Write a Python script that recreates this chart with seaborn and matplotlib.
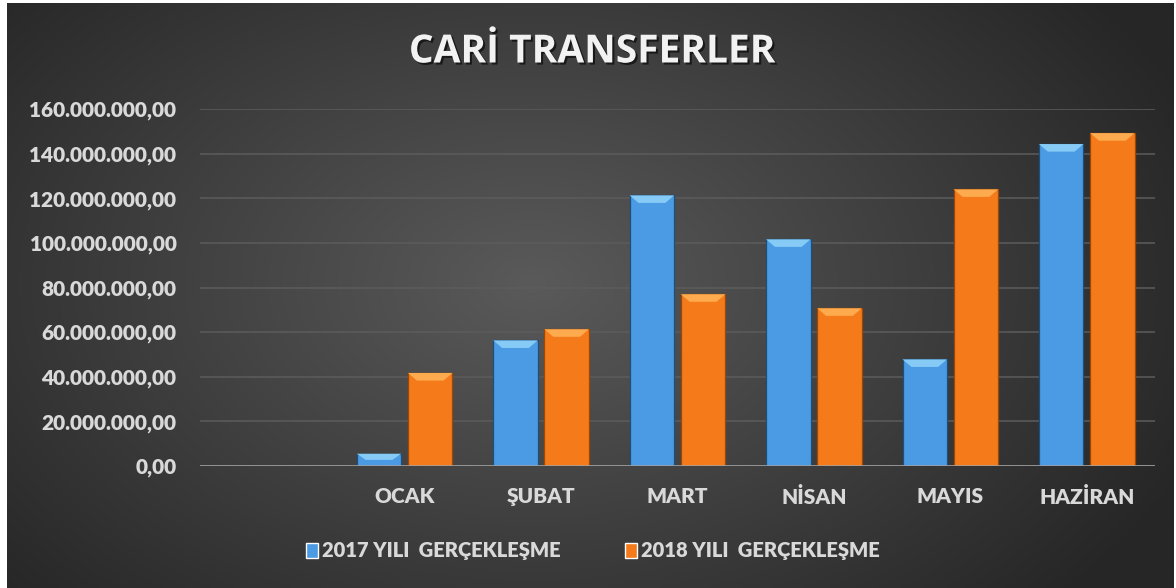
import matplotlib
matplotlib.use("Agg")
import matplotlib.pyplot as plt
import matplotlib.patheffects as pe
from matplotlib.patches import Polygon
from matplotlib.ticker import FuncFormatter
import numpy as np
import pandas as pd
import seaborn as sns

# veriler
aylar = ["OCAK", "ŞUBAT", "MART", "NİSAN", "MAYIS", "HAZİRAN"]
seri_2017 = [5.5e6, 56.3e6, 121.3e6, 101.6e6, 47.8e6, 144.3e6]
seri_2018 = [41.7e6, 61.3e6, 77.0e6, 70.7e6, 124.0e6, 149.2e6]
seri_adlari = ["2017 YILI  GERÇEKLEŞME", "2018 YILI  GERÇEKLEŞME"]
baslik = "CARİ TRANSFERLER"
bos_kategori = " "

renkler = {seri_adlari[0]: "#4a9be3", seri_adlari[1]: "#f57b1a"}
kenar = {seri_adlari[0]: "#1d4f7a", seri_adlari[1]: "#9a4708"}
parlak = {seri_adlari[0]: "#86caf6", seri_adlari[1]: "#fdab4e"}

df = pd.DataFrame({
    "ay": aylar * 2,
    "deger": seri_2017 + seri_2018,
    "seri": [seri_adlari[0]] * len(aylar) + [seri_adlari[1]] * len(aylar),
})

sns.set_style("dark")
plt.rcParams["font.family"] = ["Lato", "DejaVu Sans"]
metin_renk = "#d9d9d9"

fig = plt.figure(figsize=(11.76, 5.88), dpi=100, facecolor="white")

# arka plan: koyu gri radyal gecis
bg = fig.add_axes([7 / 1176, 0, 1 - 9 / 1176, 1 - 3 / 588])
yy, xx = np.mgrid[0:1:300j, 0:1:600j]
d = np.sqrt(((xx - 0.45) / 0.62) ** 2 + ((yy - 0.52) / 0.8) ** 2)
v = (90 - 52 * np.clip(d, 0, 1)) / 255.0
bg.imshow(np.dstack([v, v, v]), extent=(0, 1, 0, 1), aspect="auto", origin="lower")
bg.set_axis_off()

ax = fig.add_axes([200 / 1176, 1 - 466 / 588, 955 / 1176, 357 / 588])
ax.set_facecolor("none")

sns.barplot(data=df, x="ay", y="deger", hue="seri",
            order=[bos_kategori] + aylar, hue_order=seri_adlari,
            palette=renkler, saturation=1, width=0.75, gap=0.13, errorbar=None,
            ax=ax, zorder=3, legend=True)

# bar kenarlari ve ust pah efekti
for cont, ad in zip(ax.containers, seri_adlari):
    for p in cont.patches:
        p.set_edgecolor(kenar[ad])
        p.set_linewidth(0.9)
        x0, w, h = p.get_x(), p.get_width(), p.get_height()
        if not np.isfinite(h) or h <= 0:
            continue
        b = min(3.4e6, h * 0.5)
        ax.add_patch(Polygon([(x0, h), (x0 + w, h), (x0 + w * 0.8, h - b), (x0 + w * 0.2, h - b)],
                             closed=True, facecolor=parlak[ad], edgecolor="none", zorder=4))

ax.set_xlim(-0.5, len(aylar) + 0.5)
ax.set_ylim(0, 160e6)
ax.set_yticks(np.arange(0, 160e6 + 1, 20e6))
ax.yaxis.set_major_formatter(FuncFormatter(
    lambda val, pos: f"{val:,.2f}".replace(",", "X").replace(".", ",").replace("X", ".")))
ax.grid(axis="y", color="#5c5c5c", linewidth=1.1, zorder=0)
ax.grid(axis="x", visible=False)
ax.axhline(0, color="#a6a6a6", linewidth=1.8, zorder=5)
for s in ax.spines.values():
    s.set_visible(False)
ax.tick_params(axis="both", length=0, colors=metin_renk, labelsize=15)
ax.tick_params(axis="y", pad=17)
ax.tick_params(axis="x", pad=15)
for lab in ax.get_xticklabels() + ax.get_yticklabels():
    lab.set_fontweight("heavy")
ax.set_xlabel("")
ax.set_ylabel("")

fig.text(592 / 1176, 1 - 52 / 588, baslik, ha="center", va="center",
         fontsize=28, fontweight="bold", color="#f2f2f2", family=["Open Sans", "DejaVu Sans"],
         path_effects=[pe.withSimplePatchShadow(offset=(1.5, -1.5), shadow_rgbFace="black", alpha=0.6)])

handles, labels = ax.get_legend_handles_labels()
ax.get_legend().remove()
leg = fig.legend(handles, labels, loc="center", bbox_to_anchor=(593 / 1176, 1 - 551 / 588),
                 ncol=2, frameon=False, handlelength=0.6, handleheight=0.8,
                 handletextpad=0.2, columnspacing=3.2,
                 prop={"family": ["Lato", "DejaVu Sans"], "weight": "heavy", "size": 14.5})
for t in leg.get_texts():
    t.set_color(metin_renk)

fig.savefig("out.png", dpi=100, facecolor="white")
